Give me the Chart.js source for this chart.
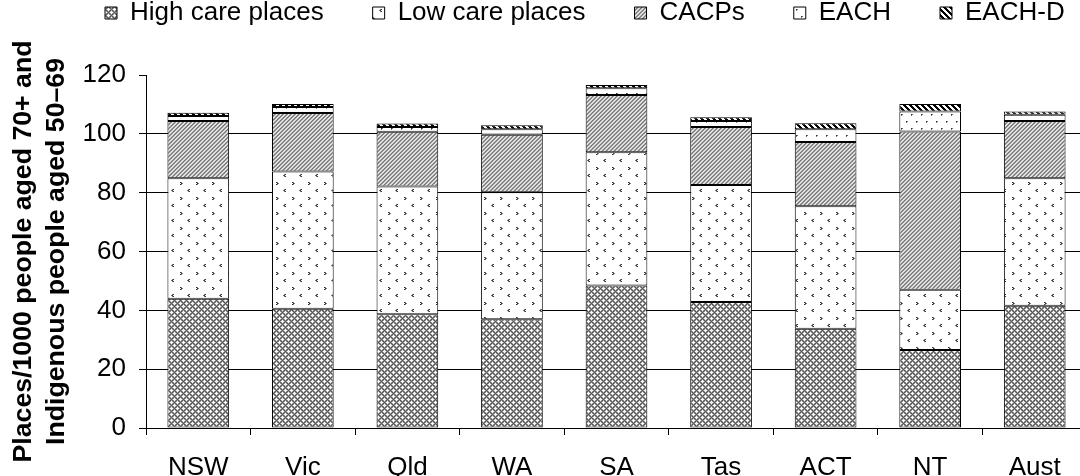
<!DOCTYPE html>
<html>
<head>
<meta charset="utf-8">
<script src="https://cdn.jsdelivr.net/npm/chart.js@4.4.1/dist/chart.umd.min.js"></script>
<style>
  html, body { margin: 0; padding: 0; background: #fff; overflow: hidden; }
  #wrap { width: 1080px; height: 476px; overflow: hidden; position: relative; }
  canvas { display: block; }
</style>
</head>
<body>
<div id="wrap"><canvas id="chart" width="1090" height="476"></canvas></div>
<script>
// Residential and community aged care places per 1000 target population, by jurisdiction
const categories = ['NSW', 'Vic', 'Qld', 'WA', 'SA', 'Tas', 'ACT', 'NT', 'Aust'];
const highCare = [43.9, 40.5, 38.7, 37.0, 48.4, 42.8, 33.7, 26.5, 41.6];
const lowCare  = [41.0, 46.7, 43.4, 43.1, 45.3, 39.8, 41.7, 20.5, 43.3];
const cacps    = [19.5, 19.9, 18.6, 19.6, 19.5, 19.7, 21.8, 53.8, 19.5];
const each     = [1.7, 2.0, 1.6, 1.9, 2.3, 2.1, 4.4, 6.8, 2.1];
const eachD    = [1.1, 1.0, 1.2, 1.3, 1.1, 1.2, 2.0, 2.5, 1.1];
const seriesNames = ['High care places', 'Low care places', 'CACPs', 'EACH', 'EACH-D'];
const yTicks = [0, 20, 40, 60, 80, 100, 120];
const yTitle = ['Places/1000 people aged 70+ and', 'Indigenous people aged 50\u201369'];

// Small repeating fill tiles (monochrome hatching)
function tile(w, h, bg, marks) {
  const c = document.createElement('canvas');
  c.width = w; c.height = h;
  const g = c.getContext('2d');
  g.fillStyle = bg; g.fillRect(0, 0, w, h);
  marks.forEach(([x, y, col]) => { g.fillStyle = col; g.fillRect(x, y, 1, 1); });
  return g.createPattern(c, 'repeat');
}
const ctx = document.getElementById('chart').getContext('2d');

// grey diamond lattice with light crosses
const highMarks = [];
for (let y = 0; y < 6; y++) for (let x = 0; x < 6; x++) {
  if ((x + y) % 6 === 0 || (x - y + 6) % 6 === 0) highMarks.push([x, y, '#555']);
}
[[0, 3], [1, 3], [5, 3], [0, 2], [0, 4], [3, 0], [2, 0], [4, 0], [3, 1], [3, 5]]
  .forEach(([x, y]) => highMarks.push([x, y, '#fafafa']));
const pHigh = tile(6, 6, '#999', highMarks);

// sparse chevrons on white
const pLow = tile(16, 15, '#ffffff', [
  [4, 2, '#333'], [5, 2, '#777'], [5, 3, '#333'], [6, 3, '#777'], [4, 4, '#333'], [5, 4, '#777'],
  [13, 9, '#333'], [12, 9, '#777'], [12, 10, '#333'], [11, 10, '#777'], [13, 11, '#333'], [12, 11, '#777']
]);
// grey forward diagonals
const cacpMarks = [];
for (let y = 0; y < 4; y++) for (let x = 0; x < 4; x++) {
  const k = (x + y) % 4;
  cacpMarks.push([x, y, k === 0 ? '#777' : k === 1 ? '#999' : k === 2 ? '#eaeaea' : '#d2d2d2']);
}
const pCacp = tile(4, 4, '#fff', cacpMarks);
// sparse dots on white
const pEach = tile(10, 14, '#ffffff', [
  [1, 2, '#333'], [2, 2, '#777'], [1, 3, '#777'],
  [6, 9, '#333'], [7, 9, '#777'], [6, 10, '#777']
]);
// bold back diagonals
const eachDMarks = [];
for (let y = 0; y < 6; y++) for (let x = 0; x < 6; x++) {
  if ((x - y + 12) % 6 < 3) eachDMarks.push([x, y, '#000']);
}
const pEachD = tile(6, 6, '#fff', eachDMarks);

const fills = [pHigh, pLow, pCacp, pEach, pEachD];
const values = [highCare, lowCare, cacps, each, eachD];

const datasets = seriesNames.map((name, i) => ({
  label: name,
  data: values[i],
  backgroundColor: fills[i],
  borderColor: '#000',
  borderWidth: 1,
  borderSkipped: false,
  barPercentage: 0.59,
  categoryPercentage: 1.0
}));

// Legend band: one row across the top, plot starting below it
const LEGEND_BAND = 75;
const LEGEND_START_X = 105;
const legendPlacement = {
  id: 'legendPlacement',
  beforeInit(chart) {
    const fit = chart.legend.fit;
    chart.legend.fit = function () {
      const mw = this.maxWidth;
      this.maxWidth = 4000;
      fit.call(this);
      this.maxWidth = mw;
      this.width = mw;
      this.height = LEGEND_BAND;
    };
  },
  afterLayout(chart) {
    const lg = chart.legend;
    const pad = lg.options.labels.padding;
    lg.left = LEGEND_START_X - pad;
    lg.right = 4000;
    lg.top = -pad;
  }
};

const FONT = '"Liberation Sans", Arial, Helvetica, sans-serif';

new Chart(ctx, {
  type: 'bar',
  data: { labels: categories, datasets },
  plugins: [legendPlacement],
  options: {
    responsive: false,
    animation: false,
    devicePixelRatio: 1,
    layout: { padding: { left: 0, right: 3, top: 0, bottom: 0 } },
    plugins: {
      tooltip: { enabled: false },
      legend: {
        position: 'top',
        align: 'start',
        labels: {
          boxWidth: 12,
          boxHeight: 12,
          padding: 49,
          color: '#000',
          font: { family: FONT, size: 26 }
        }
      }
    },
    scales: {
      x: {
        stacked: true,
        afterFit(s) { s.height = 48; },
        grid: {
          offset: true,
          drawOnChartArea: false,
          drawTicks: true,
          tickLength: 7,
          color: '#000'
        },
        border: { display: true, color: '#000', width: 1 },
        ticks: {
          color: '#000',
          padding: 17,
          maxRotation: 0,
          font: { family: FONT, size: 26 }
        }
      },
      y: {
        stacked: true,
        min: 0,
        max: 120,
        afterFit(s) { s.width = 146; },
        afterBuildTicks(s) { s.ticks = yTicks.map(v => ({ value: v })); },
        grid: {
          color: c => (c.tick && c.tick.value === 120 ? 'rgba(0,0,0,0)' : '#000'),
          tickColor: '#000',
          tickLength: 7,
          lineWidth: 1
        },
        border: { display: true, color: '#000', width: 1 },
        ticks: {
          color: '#000',
          padding: 13,
          font: { family: FONT, size: 26 }
        },
        title: {
          display: true,
          text: yTitle,
          color: '#000',
          padding: { top: 7, bottom: 0 },
          font: { family: FONT, size: 26.7, weight: 'bold', lineHeight: '33px' }
        }
      }
    }
  }
});
</script>
</body>
</html>
